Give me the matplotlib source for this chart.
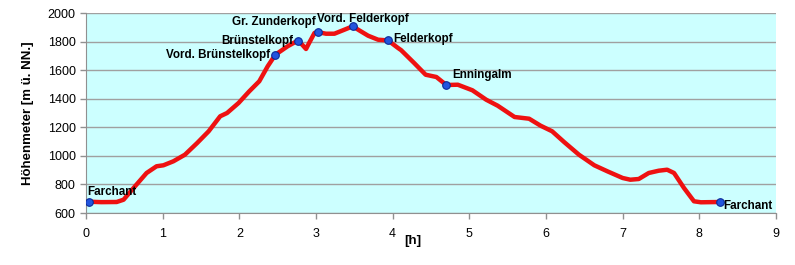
import matplotlib
matplotlib.use('Agg')
import matplotlib.pyplot as plt

plt.rcParams['font.family'] = ['Liberation Sans', 'DejaVu Sans']

# ---------- Profil (Zeit [h], Höhe [m]) ----------
zeit = [0.04, 0.2, 0.4, 0.49, 0.62, 0.79, 0.92, 1.01, 1.14, 1.29, 1.45, 1.6,
        1.75, 1.84, 1.99, 2.13, 2.26, 2.37, 2.47, 2.63, 2.76, 2.82, 2.87, 2.91,
        2.98, 3.02, 3.13, 3.24, 3.37, 3.48, 3.55, 3.68, 3.81, 3.94, 4.07, 4.11,
        4.28, 4.43, 4.57, 4.70, 4.85, 5.04, 5.22, 5.37, 5.59, 5.78, 5.93, 6.08,
        6.24, 6.43, 6.63, 6.80, 7.0, 7.10, 7.21, 7.34, 7.47, 7.58, 7.67, 7.80,
        7.93, 8.02, 8.27]
hoehe = [679, 676, 677, 693, 775, 880, 927, 934, 962, 1008, 1090, 1172,
         1277, 1300, 1370, 1452, 1522, 1627, 1708, 1767, 1806, 1778, 1748, 1790,
         1860, 1867, 1855, 1855, 1883, 1907, 1883, 1841, 1813, 1808, 1755, 1740,
         1650, 1568, 1552, 1496, 1498, 1459, 1393, 1351, 1272, 1260, 1211, 1172,
         1095, 1008, 934, 892, 845, 833, 838, 880, 896, 903, 880, 775,
         682, 675, 677]

# ---------- Wegpunkte ----------
orte = ['Farchant', 'Vord. Brünstelkopf', 'Brünstelkopf', 'Gr. Zunderkopf',
        'Vord. Felderkopf', 'Felderkopf', 'Enningalm', 'Farchant']
orte_zeit = [0.04, 2.47, 2.76, 3.02, 3.48, 3.94, 4.70, 8.27]
orte_hoehe = [679, 1708, 1806, 1867, 1907, 1808, 1496, 677]

fig = plt.figure(figsize=(7.95, 2.65), dpi=100)
ax = fig.add_axes([86 / 795, 52 / 265, 690 / 795, 200 / 265])
ax.set_facecolor('#ccffff')

ax.plot(zeit, hoehe, color='#ee1111', linewidth=3.2, solid_capstyle='round',
        solid_joinstyle='round', zorder=3)
ax.scatter(orte_zeit, orte_hoehe, s=30, color='#2255dd', edgecolor='#0a2a99',
           linewidth=0.8, zorder=4)

# Beschriftung der Wegpunkte: (dx, dy) in Punkten, ha, va
lage = [(-1, 3, 'left', 'bottom'), (-4, 0, 'right', 'center'),
        (-3, 0, 'right', 'center'), (-1, 3, 'right', 'bottom'),
        (7, 1, 'center', 'bottom'), (4, 1, 'left', 'center'),
        (4, 3, 'left', 'bottom'), (2, -3, 'left', 'center')]
for name, x, y, (dx, dy, ha, va) in zip(orte, orte_zeit, orte_hoehe, lage):
    ax.annotate(name, (x, y), xytext=(dx, dy), textcoords='offset points',
                ha=ha, va=va, fontsize=8.4, fontweight='bold', zorder=5)

ax.set_xlim(0, 9)
ax.set_ylim(600, 2000)
ax.set_xticks(range(0, 10))
ax.set_yticks(range(600, 2001, 200))
ax.yaxis.grid(True, color='#a0a0a0', linewidth=1)
ax.set_axisbelow(True)
for s in ['top', 'right']:
    ax.spines[s].set_visible(False)
for s in ['left', 'bottom']:
    ax.spines[s].set_color('#909090')
ax.tick_params(axis='both', colors='#909090', labelcolor='black', labelsize=9,
               length=4, width=1)
ax.tick_params(axis='x', pad=7)
ax.set_ylabel('Höhenmeter [m ü. NN.]', fontsize=9.5, fontweight='bold')
ax.yaxis.set_label_coords(-0.075, 0.5)
ax.set_xlabel('[h]', fontsize=9.5, fontweight='bold')
ax.xaxis.set_label_coords(0.473, -0.11)

fig.savefig('out.png', dpi=100)
